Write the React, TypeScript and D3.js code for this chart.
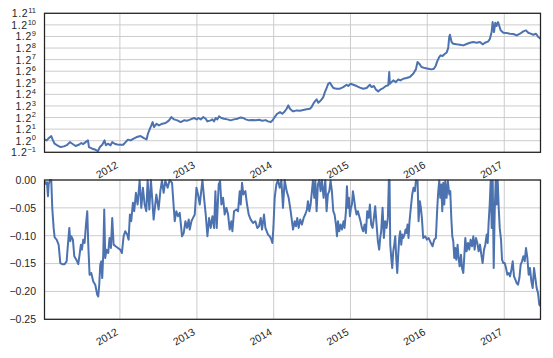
import React from "react";
import * as d3 from "d3";

// Cumulative returns, dates as fractional years
const cumYears = [
  2011.018, 2011.046, 2011.076, 2011.106, 2011.128, 2011.15, 2011.185, 2011.228, 2011.271, 2011.315,
  2011.349, 2011.38, 2011.423, 2011.466, 2011.497, 2011.523, 2011.553, 2011.584, 2011.597, 2011.64,
  2011.683, 2011.714, 2011.74, 2011.77, 2011.8, 2011.818, 2011.844, 2011.878, 2011.9, 2011.931,
  2011.965, 2012.009, 2012.043, 2012.074, 2012.104, 2012.139, 2012.173, 2012.217, 2012.269, 2012.312,
  2012.347, 2012.364, 2012.39, 2012.408, 2012.425, 2012.442, 2012.477, 2012.507, 2012.551, 2012.594,
  2012.638, 2012.668, 2012.703, 2012.746, 2012.789, 2012.833, 2012.876, 2012.919, 2012.963, 2012.998,
  2013.019, 2013.05, 2013.084, 2013.115, 2013.136, 2013.18, 2013.201, 2013.223, 2013.245, 2013.267,
  2013.288, 2013.319, 2013.353, 2013.397, 2013.44, 2013.483, 2013.527, 2013.57, 2013.605, 2013.635,
  2013.679, 2013.722, 2013.765, 2013.809, 2013.852, 2013.895, 2013.926, 2013.961, 2013.987, 2014.013,
  2014.047, 2014.082, 2014.112, 2014.143, 2014.169, 2014.19, 2014.212, 2014.234, 2014.255, 2014.299,
  2014.342, 2014.385, 2014.429, 2014.472, 2014.494, 2014.516, 2014.537, 2014.559, 2014.581, 2014.602,
  2014.624, 2014.646, 2014.667, 2014.689, 2014.711, 2014.733, 2014.754, 2014.776, 2014.819, 2014.863,
  2014.906, 2014.949, 2014.971, 2015.001, 2015.036, 2015.08, 2015.123, 2015.166, 2015.21, 2015.253,
  2015.275, 2015.305, 2015.331, 2015.361, 2015.392, 2015.427, 2015.461, 2015.492, 2015.505, 2015.513,
  2015.535, 2015.557, 2015.591, 2015.622, 2015.652, 2015.687, 2015.73, 2015.773, 2015.817, 2015.852,
  2015.873, 2015.895, 2015.925, 2015.969, 2016.012, 2016.055, 2016.086, 2016.112, 2016.129, 2016.155,
  2016.173, 2016.199, 2016.229, 2016.251, 2016.272, 2016.285, 2016.294, 2016.316, 2016.337, 2016.381,
  2016.424, 2016.468, 2016.511, 2016.554, 2016.598, 2016.641, 2016.684, 2016.719, 2016.749, 2016.793,
  2016.814, 2016.836, 2016.849, 2016.867, 2016.884, 2016.901, 2016.919, 2016.936, 2016.953, 2016.988,
  2017.031, 2017.075, 2017.118, 2017.162, 2017.205, 2017.248, 2017.283, 2017.313, 2017.344, 2017.378,
  2017.413, 2017.443, 2017.472,
];
const cumValues = [
  1.022, 1.005, 1.043, 1.076, 1.005, 0.954, 0.93, 0.905, 0.915, 0.938,
  0.978, 0.954, 0.92, 0.938, 0.964, 0.948, 0.978, 1.005, 0.905, 0.882,
  0.867, 0.85, 0.905, 0.938, 1.005, 0.93, 0.954, 0.93, 0.978, 0.954,
  0.943, 0.938, 0.938, 0.978, 1.017, 1.005, 1.031, 1.06, 1.076, 1.043,
  1.022, 1.116, 1.209, 1.272, 1.341, 1.24, 1.307, 1.272, 1.307, 1.322,
  1.378, 1.451, 1.399, 1.378, 1.341, 1.378, 1.371, 1.399, 1.43, 1.399,
  1.43, 1.399, 1.451, 1.414, 1.356, 1.378, 1.399, 1.356, 1.43, 1.399,
  1.467, 1.43, 1.414, 1.399, 1.378, 1.399, 1.414, 1.443, 1.43, 1.399,
  1.378, 1.383, 1.378, 1.391, 1.371, 1.383, 1.356, 1.341, 1.378, 1.451,
  1.529, 1.569, 1.529, 1.586, 1.654, 1.744, 1.654, 1.612, 1.586, 1.612,
  1.604, 1.621, 1.639, 1.654, 1.7, 1.789, 1.859, 1.917, 1.818, 1.859,
  1.917, 1.988, 2.15, 2.292, 2.452, 2.493, 2.39, 2.292, 2.267, 2.267,
  2.326, 2.412, 2.365, 2.452, 2.412, 2.365, 2.305, 2.267, 2.292, 2.412,
  2.326, 2.365, 2.243, 2.174, 2.243, 2.292, 2.365, 2.39, 2.948, 2.452,
  2.516, 2.585, 2.516, 2.623, 2.585, 2.652, 2.682, 2.726, 2.869, 3.074,
  3.449, 3.362, 3.189, 3.137, 3.108, 3.074, 3.108, 3.271, 3.487, 3.73,
  3.833, 3.792, 3.932, 3.997, 4.3, 5.113, 5.303, 4.728, 4.6, 4.558,
  4.533, 4.484, 4.583, 4.676, 4.728, 4.676, 4.728, 4.558, 4.676, 4.779,
  4.984, 5.53, 6.469, 5.53, 6.41, 6.08, 6.469, 6.08, 5.683, 5.47,
  5.44, 5.39, 5.362, 5.245, 5.39, 5.591, 5.683, 5.47, 5.39, 5.303,
  5.39, 5.113, 4.984,
];

// Drawdown
const ddYears = [
  2011.018, 2011.037, 2011.05, 2011.063, 2011.072, 2011.089, 2011.106, 2011.119, 2011.137, 2011.15,
  2011.176, 2011.202, 2011.224, 2011.25, 2011.28, 2011.306, 2011.323, 2011.341, 2011.354, 2011.367,
  2011.388, 2011.406, 2011.432, 2011.458, 2011.475, 2011.492, 2011.505, 2011.523, 2011.54, 2011.558,
  2011.575, 2011.588, 2011.605, 2011.627, 2011.653, 2011.679, 2011.705, 2011.718, 2011.731, 2011.744,
  2011.757, 2011.77, 2011.783, 2011.796, 2011.809, 2011.826, 2011.848, 2011.865, 2011.883, 2011.9,
  2011.918, 2011.944, 2011.974, 2012.004, 2012.026, 2012.048, 2012.069, 2012.095, 2012.113, 2012.13,
  2012.147, 2012.169, 2012.186, 2012.208, 2012.23, 2012.256, 2012.278, 2012.299, 2012.321, 2012.343,
  2012.36, 2012.382, 2012.403, 2012.438, 2012.473, 2012.503, 2012.525, 2012.546, 2012.568, 2012.59,
  2012.62, 2012.646, 2012.677, 2012.712, 2012.733, 2012.755, 2012.777, 2012.807, 2012.829, 2012.851,
  2012.872, 2012.894, 2012.907, 2012.929, 2012.95, 2012.972, 2012.994, 2013.015, 2013.037, 2013.072,
  2013.093, 2013.115, 2013.137, 2013.159, 2013.18, 2013.202, 2013.224, 2013.241, 2013.258, 2013.284,
  2013.302, 2013.319, 2013.341, 2013.362, 2013.384, 2013.406, 2013.427, 2013.449, 2013.462, 2013.484,
  2013.514, 2013.536, 2013.558, 2013.571, 2013.588, 2013.605, 2013.631, 2013.653, 2013.675, 2013.701,
  2013.731, 2013.761, 2013.787, 2013.809, 2013.831, 2013.848, 2013.874, 2013.892, 2013.926, 2013.948,
  2013.97, 2013.983, 2013.996, 2014.013, 2014.035, 2014.056, 2014.078, 2014.1, 2014.121, 2014.143,
  2014.169, 2014.195, 2014.221, 2014.252, 2014.273, 2014.29, 2014.307, 2014.325, 2014.346, 2014.368,
  2014.39, 2014.411, 2014.433, 2014.446, 2014.464, 2014.481, 2014.498, 2014.511, 2014.529, 2014.542,
  2014.559, 2014.576, 2014.594, 2014.611, 2014.628, 2014.65, 2014.672, 2014.689, 2014.706, 2014.724,
  2014.741, 2014.758, 2014.776, 2014.793, 2014.811, 2014.824, 2014.837, 2014.854, 2014.871, 2014.889,
  2014.91, 2014.923, 2014.941, 2014.954, 2014.967, 2014.98, 2014.993, 2015.006, 2015.019, 2015.032,
  2015.045, 2015.062, 2015.079, 2015.097, 2015.114, 2015.131, 2015.149, 2015.166, 2015.184, 2015.201,
  2015.218, 2015.236, 2015.253, 2015.27, 2015.288, 2015.305, 2015.322, 2015.34, 2015.357, 2015.374,
  2015.387, 2015.4, 2015.418, 2015.435, 2015.452, 2015.47, 2015.487, 2015.5, 2015.509, 2015.518,
  2015.531, 2015.544, 2015.557, 2015.57, 2015.583, 2015.596, 2015.609, 2015.622, 2015.635, 2015.648,
  2015.661, 2015.674, 2015.687, 2015.704, 2015.717, 2015.73, 2015.743, 2015.756, 2015.769, 2015.786,
  2015.804, 2015.821, 2015.839, 2015.852, 2015.874, 2015.887, 2015.904, 2015.917, 2015.93, 2015.947,
  2015.973, 2015.995, 2016.017, 2016.047, 2016.069, 2016.091, 2016.112, 2016.13, 2016.143, 2016.156,
  2016.169, 2016.182, 2016.195, 2016.208, 2016.221, 2016.234, 2016.251, 2016.268, 2016.286, 2016.299,
  2016.312, 2016.325, 2016.338, 2016.351, 2016.364, 2016.377, 2016.394, 2016.407, 2016.42, 2016.438,
  2016.451, 2016.468, 2016.481, 2016.494, 2016.511, 2016.529, 2016.546, 2016.563, 2016.581, 2016.598,
  2016.615, 2016.633, 2016.65, 2016.667, 2016.685, 2016.702, 2016.719, 2016.737, 2016.754, 2016.772,
  2016.785, 2016.798, 2016.811, 2016.824, 2016.837, 2016.85, 2016.863, 2016.876, 2016.889, 2016.902,
  2016.915, 2016.928, 2016.941, 2016.958, 2016.971, 2016.988, 2017.006, 2017.023, 2017.04, 2017.058,
  2017.075, 2017.093, 2017.11, 2017.127, 2017.145, 2017.162, 2017.179, 2017.197, 2017.214, 2017.231,
  2017.249, 2017.266, 2017.283, 2017.301, 2017.318, 2017.335, 2017.353, 2017.37, 2017.388, 2017.405,
  2017.422, 2017.44, 2017.457, 2017.472,
];
const ddValues = [
  -0.002, -0.007, -0.004, -0.029, -0.008, 0, 0, -0.05, -0.086, -0.103,
  -0.107, -0.116, -0.149, -0.151, -0.151, -0.146, -0.116, -0.086, -0.11, -0.101,
  -0.107, -0.137, -0.143, -0.151, -0.134, -0.116, -0.125, -0.107, -0.113, -0.08,
  -0.056, -0.116, -0.17, -0.167, -0.182, -0.188, -0.206, -0.209, -0.188, -0.152,
  -0.146, -0.176, -0.134, -0.053, -0.14, -0.125, -0.131, -0.104, -0.122, -0.068,
  -0.116, -0.119, -0.122, -0.125, -0.131, -0.101, -0.092, -0.098, -0.107, -0.062,
  -0.074, -0.041, -0.056, -0.023, -0.044, -0.001, -0.05, -0.014, -0.044, -0.056,
  0, -0.053, 0, -0.071, -0.026, -0.053, -0.02, -0.001, -0.023, -0.001,
  -0.014, 0, -0.005, -0.074, -0.056, -0.065, -0.059, -0.101, -0.095, -0.074,
  -0.086, -0.071, -0.089, -0.074, -0.068, -0.062, -0.014, -0.026, -0.044, 0,
  -0.032, -0.062, -0.101, -0.068, -0.086, -0.065, -0.086, -0.02, -0.086, -0.008,
  -0.002, -0.044, -0.032, -0.062, -0.05, -0.062, -0.089, -0.074, -0.092, -0.056,
  -0.053, -0.056, -0.02, -0.044, -0.005, -0.026, -0.02, -0.044, -0.062, -0.071,
  -0.077, -0.074, -0.086, -0.083, -0.068, -0.089, -0.062, -0.086, -0.098, -0.101,
  -0.107, -0.113, -0.086, -0.032, -0.008, 0, -0.014, 0, -0.05, 0,
  -0.02, -0.032, -0.056, -0.089, -0.074, -0.083, -0.068, -0.086, -0.071, -0.08,
  -0.068, -0.062, -0.053, -0.038, -0.056, -0.044, -0.02, -0.001, -0.032, -0.001,
  -0.056, -0.008, 0, -0.02, 0, -0.032, 0, -0.056, -0.026, -0.02,
  -0.001, -0.02, -0.056, -0.062, -0.08, -0.101, -0.074, -0.092, -0.08, -0.089,
  -0.074, -0.086, -0.056, -0.011, -0.05, -0.032, -0.065, -0.05, -0.044, -0.02,
  -0.032, -0.05, -0.062, -0.056, -0.065, -0.074, -0.086, -0.092, -0.08, -0.095,
  -0.056, -0.068, -0.044, -0.08, -0.086, -0.068, -0.047, -0.08, -0.11, -0.125,
  -0.104, -0.092, -0.05, -0.104, -0.074, -0.086, -0.068, 0, -0.001, -0.116,
  -0.14, -0.158, -0.128, -0.116, -0.101, -0.14, -0.167, -0.134, -0.104, -0.092,
  -0.116, -0.098, -0.104, -0.098, -0.089, -0.095, -0.08, -0.104, -0.074, -0.05,
  -0.026, -0.014, -0.02, -0.001, -0.002, -0.074, -0.038, -0.05, -0.068, -0.104,
  -0.101, -0.107, -0.104, -0.113, -0.119, -0.107, -0.104, -0.05, -0.02, -0.001,
  -0.032, -0.008, -0.056, -0.005, -0.044, -0.002, -0.032, -0.002, -0.026, -0.02,
  -0.068, -0.101, -0.11, -0.14, -0.122, -0.143, -0.116, -0.14, -0.155, -0.134,
  -0.158, -0.167, -0.137, -0.104, -0.128, -0.113, -0.125, -0.107, -0.119, -0.101,
  -0.125, -0.104, -0.113, -0.128, -0.116, -0.134, -0.149, -0.125, -0.116, -0.098,
  -0.113, -0.074, -0.044, -0.001, -0.086, -0.001, -0.158, -0.056, -0.001, -0.044,
  -0.001, -0.05, -0.086, -0.107, -0.143, -0.149, -0.149, -0.158, -0.17, -0.167,
  -0.173, -0.161, -0.146, -0.173, -0.179, -0.185, -0.188, -0.176, -0.152, -0.146,
  -0.137, -0.146, -0.122, -0.14, -0.17, -0.158, -0.182, -0.194, -0.158, -0.176,
  -0.194, -0.203, -0.224, -0.226,
];

const cumTickExponents = [-1, 0, 1, 2, 3, 4, 5, 6, 7, 8, 9, 10, 11];
const ddTicks = [0, -0.05, -0.1, -0.15, -0.2, -0.25];
const ddTickLabels = ["0.00", "\u22120.05", "\u22120.10", "\u22120.15", "\u22120.20", "\u22120.25"];
const yearTicks = [2012, 2013, 2014, 2015, 2016, 2017];

const W = 553;
const H = 358;
const LEFT = 44.5;
const RIGHT = 540.5;
const TOP1 = 13.3;
const BOT1 = 152.3;
const TOP2 = 180;
const BOT2 = 319.3;
const LINE = "#4c72b0";
const GRID = "#cccccc";
const SPINE = "#222222";
const TEXT = "#262626";
const FONT = "'Liberation Sans', Arial, sans-serif";

const fyToDate = (fy: number) => {
  const y = Math.floor(fy);
  const s = Date.UTC(y, 0, 1);
  const e = Date.UTC(y + 1, 0, 1);
  return new Date(s + (fy - y) * (e - s));
};

export default function App() {
  const x = d3
    .scaleUtc()
    .domain([fyToDate(cumYears[0]), fyToDate(cumYears[cumYears.length - 1])])
    .range([LEFT, RIGHT]);
  const y1 = d3.scaleLog().base(1.2).domain([Math.pow(1.2, -1), Math.pow(1.2, 11)]).range([BOT1, TOP1]);
  const y2 = d3.scaleLinear().domain([-0.25, 0]).range([BOT2, TOP2]);

  const cumData = cumYears.map((t, i) => [fyToDate(t), cumValues[i]] as [Date, number]);
  const ddData = ddYears.map((t, i) => [fyToDate(t), ddValues[i]] as [Date, number]);

  const line1 = d3
    .line<[Date, number]>()
    .x((d) => x(d[0]))
    .y((d) => y1(d[1]))(cumData);
  const line2 = d3
    .line<[Date, number]>()
    .x((d) => x(d[0]))
    .y((d) => y2(d[1]))(ddData);

  const yearDates = yearTicks.map((yr) => new Date(Date.UTC(yr, 0, 1)));

  const xLabels = (bottom: number, key: string) =>
    yearDates.map((d, i) => (
      <text
        key={key + i}
        transform={`translate(${x(d) - 1},${bottom + 14.7}) rotate(-30)`}
        textAnchor="end"
        fontSize={10.5}
        fill={TEXT}
        fontFamily={FONT}
      >
        {yearTicks[i]}
      </text>
    ));

  return (
    <svg
      width={W}
      height={H}
      style={{ position: "absolute", left: 0, top: 0, display: "block", background: "#fff" }}
    >
      <defs>
        <clipPath id="clip1">
          <rect x={LEFT} y={TOP1} width={RIGHT - LEFT} height={BOT1 - TOP1} />
        </clipPath>
        <clipPath id="clip2">
          <rect x={LEFT} y={TOP2 - 1} width={RIGHT - LEFT} height={BOT2 - TOP2 + 1} />
        </clipPath>
      </defs>

      {/* Top panel */}
      <g>
        {cumTickExponents.map((e) => (
          <line key={"h1" + e} x1={LEFT} x2={RIGHT} y1={y1(Math.pow(1.2, e))} y2={y1(Math.pow(1.2, e))} stroke={GRID} strokeWidth={1} />
        ))}
        {yearDates.map((d, i) => (
          <line key={"v1" + i} x1={x(d)} x2={x(d)} y1={TOP1} y2={BOT1} stroke={GRID} strokeWidth={1} />
        ))}
        <path d={line1 || ""} fill="none" stroke={LINE} strokeWidth={2} strokeLinejoin="round" clipPath="url(#clip1)" />
        <rect x={LEFT} y={TOP1} width={RIGHT - LEFT} height={BOT1 - TOP1} fill="none" stroke={SPINE} strokeWidth={1.25} />
        {cumTickExponents.map((e) => {
          const ty = y1(Math.pow(1.2, e));
          return (
            <text key={"t1" + e} x={36} y={ty + 4} textAnchor="end" fontSize={10.5} fill={TEXT} fontFamily={FONT}>
              <tspan letterSpacing={0.6}>1.2</tspan>
              <tspan fontSize={7.5} dy={-4.3}>
                {e < 0 ? "\u2212" + Math.abs(e) : String(e)}
              </tspan>
            </text>
          );
        })}
        {xLabels(BOT1, "xl1")}
      </g>

      {/* Bottom panel */}
      <g>
        {ddTicks.map((v) => (
          <line key={"h2" + v} x1={LEFT} x2={RIGHT} y1={y2(v)} y2={y2(v)} stroke={GRID} strokeWidth={1} />
        ))}
        {yearDates.map((d, i) => (
          <line key={"v2" + i} x1={x(d)} x2={x(d)} y1={TOP2} y2={BOT2} stroke={GRID} strokeWidth={1} />
        ))}
        <path d={line2 || ""} fill="none" stroke={LINE} strokeWidth={2} strokeLinejoin="round" clipPath="url(#clip2)" />
        <rect x={LEFT} y={TOP2} width={RIGHT - LEFT} height={BOT2 - TOP2} fill="none" stroke={SPINE} strokeWidth={1.25} />
        {ddTicks.map((v, i) => (
          <text key={"t2" + i} x={36} y={y2(v) + 3.8} textAnchor="end" fontSize={10.5} fill={TEXT} fontFamily={FONT}>
            {ddTickLabels[i]}
          </text>
        ))}
        {xLabels(BOT2, "xl2")}
      </g>
    </svg>
  );
}
